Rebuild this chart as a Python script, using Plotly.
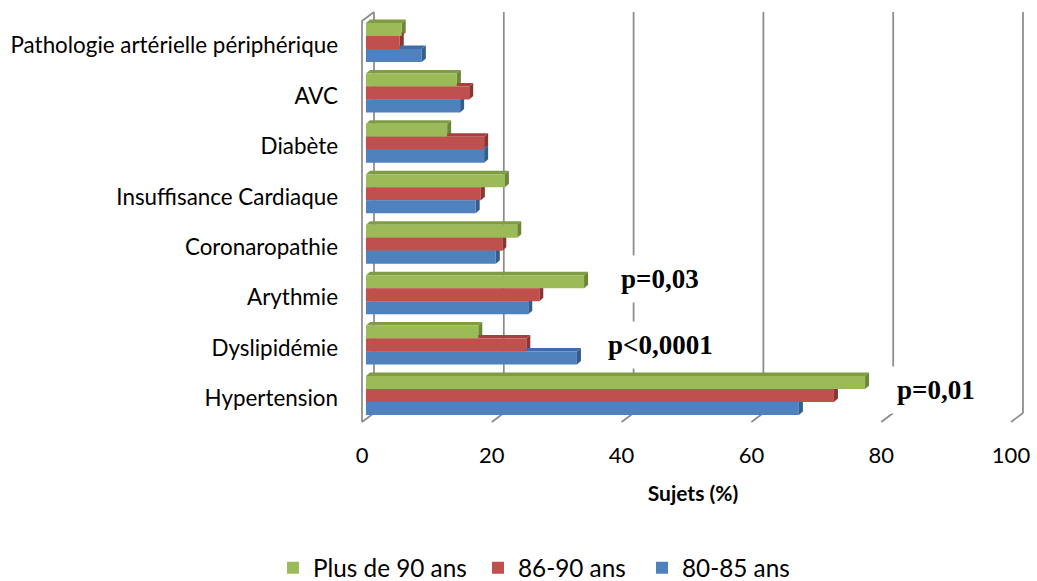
import plotly.graph_objects as go

# ---- data -------------------------------------------------------------
categories = [
    "Hypertension",
    "Dyslipidémie",
    "Arythmie",
    "Coronaropathie",
    "Insuffisance Cardiaque",
    "Diabète",
    "AVC",
    "Pathologie artérielle périphérique",
]
plus_de_90 = [76.9, 17.3, 33.6, 23.3, 21.4, 12.5, 14.0, 5.5]
ans_86_90 = [72.1, 24.7, 26.7, 21.0, 17.7, 18.2, 15.9, 5.2]
ans_80_85 = [66.7, 32.5, 25.0, 20.0, 16.9, 18.2, 14.5, 8.6]
series_names = ["Plus de 90 ans", "86-90 ans", "80-85 ans"]
x_ticks = [0, 20, 40, 60, 80, 100]
p_values = {"Hypertension": "p=0,01", "Dyslipidémie": "p<0,0001", "Arythmie": "p=0,03"}

# ---- geometry (pixels) -------------------------------------------------
W, H = 1037, 581
M_L, M_R, M_T, M_B = 361, 12, 10, 157
X0_PX, PX_PER_X = 366.0, 6.49        # value 0 on the bar plane, px per unit
Y0_PX, PX_PER_Y = 395.5, 50.43       # centre of first category, px per category
PLOT_W = W - M_L - M_R
PLOT_H = H - M_T - M_B


def xd(px):
    return (px - X0_PX) / PX_PER_X


def yd(py):
    return (Y0_PX - py) / PX_PER_Y


def dx(px):
    return px / PX_PER_X


def dy(px):
    return px / PX_PER_Y


def paper_x(px):
    return (px - M_L) / PLOT_W


def paper_y(py):
    return (H - M_B - py) / PLOT_H


x_range = [xd(M_L), xd(W - M_R)]
y_range = [yd(H - M_B), yd(M_T)]

BAR_W = dy(13)
offsets = [dy(13), 0.0, -dy(13)]
front_colors = ["#9BBB59", "#C0504D", "#4F81BD"]
top_colors = ["#7F9C45", "#A4403D", "#3F6DA6"]
side_colors = ["#6B8637", "#8C3431", "#345C8D"]
values = [plus_de_90, ans_86_90, ans_80_85]

# depth of the 3D box: back plane is up-right of the bar plane, front plane down-left
BACK_DX, BACK_DY = dx(8), dy(6)
FRONT_DX, FRONT_DY = dx(-4), dy(-3)
FACE_DX, FACE_DY = dx(4), dy(3.5)
floor_back = yd(413)
top_back = yd(12)

grid_col = "#8C8C8C"
shapes = []

# back grid lines + floor ticks
for t in x_ticks:
    shapes.append(dict(type="line", xref="x", yref="y", layer="below",
                       x0=t + BACK_DX, x1=t + BACK_DX, y0=floor_back, y1=top_back,
                       line=dict(color=grid_col, width=1.75)))
    shapes.append(dict(type="line", xref="x", yref="y", layer="below",
                       x0=t + BACK_DX, y0=floor_back, x1=t + FRONT_DX,
                       y1=floor_back - BACK_DY + FRONT_DY,
                       line=dict(color=grid_col, width=1.75)))

# left wall front edge
wall_front_top = top_back - BACK_DY + FRONT_DY
shapes.append(dict(type="path", xref="x", yref="y", layer="below",
                   path=f"M{FRONT_DX},{floor_back - BACK_DY + FRONT_DY} "
                        f"L{FRONT_DX},{wall_front_top} L{BACK_DX},{top_back}",
                   line=dict(color=grid_col, width=1.75)))

# top and side faces of each bar
for s, vals in enumerate(values):
    for i, v in enumerate(vals):
        yc = i + offsets[s]
        y_lo, y_hi = yc - BAR_W / 2, yc + BAR_W / 2
        top = (f"M0,{y_hi} L{v},{y_hi} L{v + FACE_DX},{y_hi + FACE_DY} "
               f"L{FACE_DX},{y_hi + FACE_DY} Z")
        side = (f"M{v},{y_lo} L{v},{y_hi} L{v + FACE_DX},{y_hi + FACE_DY} "
                f"L{v + FACE_DX},{y_lo + FACE_DY} Z")
        shapes.append(dict(type="path", xref="x", yref="y", layer="below", path=top,
                           fillcolor=top_colors[s], line=dict(width=0)))
        shapes.append(dict(type="path", xref="x", yref="y", layer="below", path=side,
                           fillcolor=side_colors[s], line=dict(width=0)))

legend_ids = ["legend", "legend2", "legend3"]
fig = go.Figure()
for s, vals in enumerate(values):
    fig.add_trace(go.Bar(
        x=vals,
        y=[i + offsets[s] for i in range(len(categories))],
        width=BAR_W,
        orientation="h",
        name=series_names[s],
        legend=legend_ids[s],
        marker=dict(color=front_colors[s], line=dict(width=0)),
    ))

# p-value labels beside their categories
p_pos = {"Hypertension": (87.8, 0.11), "Dyslipidémie": (45.45, 1.0), "Arythmie": (45.3, 2.31)}
annotations = []
for cat, txt in p_values.items():
    x, y = p_pos[cat]
    annotations.append(dict(x=x, y=y, xref="x", yref="y", text=f"<b>{txt}</b>",
                            showarrow=False, bgcolor="white", borderpad=8,
                            font=dict(family="Liberation Serif", size=27, color="black")))

font_family = "Lato"
legend_left_px = [273, 478, 642]
legends = {}
for lid, lx in zip(legend_ids, legend_left_px):
    legends[lid] = dict(orientation="h", x=paper_x(lx), xanchor="left",
                        y=paper_y(568), yanchor="middle",
                        font=dict(size=24.3, family=font_family, color="black"),
                        bgcolor="rgba(0,0,0,0)")

fig.update_layout(
    width=W, height=H,
    margin=dict(l=M_L, r=M_R, t=M_T, b=M_B, pad=0, autoexpand=False),
    paper_bgcolor="white", plot_bgcolor="white",
    barmode="overlay",
    showlegend=True,
    shapes=shapes,
    annotations=annotations,
    font=dict(family=font_family, color="black"),
    xaxis=dict(range=x_range, tickvals=x_ticks, showgrid=False, zeroline=False,
               showline=False, ticks="", ticklabelshift=-4, ticklabelstandoff=16,
               automargin=False,
               tickfont=dict(size=22, family=font_family, color="black"),
               title=dict(text="<b>Sujets (%)</b>", standoff=19,
                          font=dict(size=21, family=font_family, color="black"))),
    yaxis=dict(range=y_range, tickvals=list(range(len(categories))), ticktext=categories,
               showgrid=False, zeroline=False, showline=False, ticks="",
               ticklabelstandoff=22, ticklabelshift=3, automargin=False,
               tickfont=dict(size=22.4, family=font_family, color="black")),
    **legends,
)

fig.write_html("out.html")
